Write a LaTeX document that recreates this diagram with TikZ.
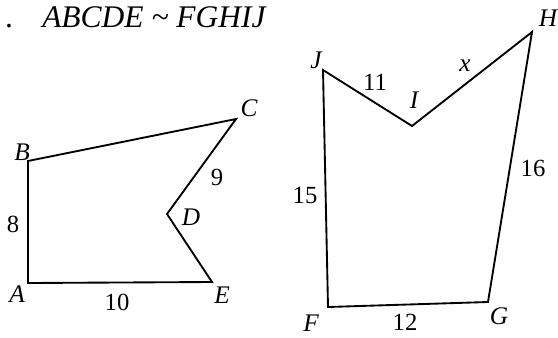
\documentclass[tikz,border=0pt]{standalone}
\usepackage{fontspec}
\setmainfont{Liberation Serif}
\begin{document}
\begin{tikzpicture}[x=0.75pt,y=-0.75pt,
  edge/.style={line width=1.4pt,line join=miter},
  lab/.style={font=\fontsize{19}{21}\selectfont\itshape,inner sep=0pt},
  num/.style={font=\fontsize{18.5}{20}\selectfont,inner sep=0pt},
  ttl/.style={font=\fontsize{23.6}{25}\selectfont\itshape,inner sep=0pt}]
\useasboundingbox (0,0) rectangle (558,337);
% title
\node[ttl,anchor=base] (dot) at (9,27) {\upshape .};
\node[ttl,anchor=base west] (title) at (42,27) {ABCDE \textasciitilde{} FGHIJ};
% left polygon
\coordinate (A) at (28,283);
\coordinate (B) at (28,161);
\coordinate (C) at (236,119);
\coordinate (D) at (167,214);
\coordinate (E) at (212,282);
\draw[edge] (A) -- (B) -- (C) -- (D) -- (E) -- cycle;
\node[lab] (lA) at (17,294) {A};
\node[lab] (lB) at (22,152) {B};
\node[lab] (lC) at (249,108) {C};
\node[lab] (lD) at (191,217) {D};
\node[lab] (lE) at (222,295) {E};
\node[num] (n8) at (13,224) {8};
\node[num] (n9) at (217,177) {9};
\node[num] (n10) at (117,302) {10};
% right polygon
\coordinate (F) at (328,307);
\coordinate (G) at (488,302);
\coordinate (H) at (532,32);
\coordinate (I) at (412,126);
\coordinate (J) at (323,70);
\draw[edge] (F) -- (G) -- (H) -- (I) -- (J) -- cycle;
\node[lab] (lF) at (311,323) {F};
\node[lab] (lG) at (499,316) {G};
\node[lab] (lH) at (548,18) {H};
\node[lab] (lI) at (414,100) {I};
\node[lab] (lJ) at (316,60) {J};
\node[num] (n11) at (375,82) {11};
\node[lab] (nx) at (465,66) {x};
\node[num] (n15) at (305,195) {15};
\node[num] (n16) at (533,168) {16};
\node[num] (n12) at (405,322) {12};
\end{tikzpicture}
\end{document}
